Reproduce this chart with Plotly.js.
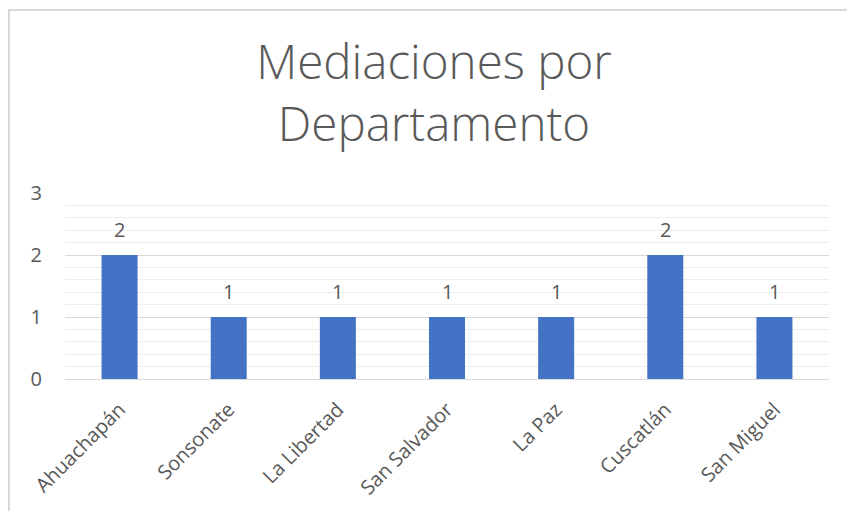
<!DOCTYPE html>
<html>
<head>
<meta charset="utf-8">
<script src="https://cdn.plot.ly/plotly-3.0.1.min.js"></script>
<style>
html,body{margin:0;padding:0;background:#fff;overflow:hidden;}
#wrap{position:relative;width:847px;height:511px;}
#chart{width:847px;height:511px;}
#frame{position:absolute;left:8px;top:9px;width:900px;height:600px;border:2px solid #d9d9d9;box-sizing:border-box;pointer-events:none;}
</style>
</head>
<body>
<div id="wrap"><div id="chart"></div><div id="frame"></div></div>
<script>
const categories = ["Ahuachapán","Sonsonate","La Libertad","San Salvador","La Paz","Cuscatlán","San Miguel"];
const values = [2,1,1,1,1,2,1];
const yTicks = [0,1,2,3];

const gray = '#595959';
const font = "'Open Sans', sans-serif";

const trace = {
  type: 'bar',
  x: categories,
  y: values,
  marker: {color: '#4472C4'},
  hoverinfo: 'skip'
};

const annotations = categories.map((c, i) => ({
  x: c, y: values[i], xref: 'x', yref: 'y',
  text: String(values[i]), showarrow: false,
  yanchor: 'bottom', yshift: 10,
  font: {family: font, size: 20, color: gray}
}));

const layout = {
  width: 847, height: 511,
  margin: {l: 65, r: 18, t: 193, b: 132},
  paper_bgcolor: '#fff', plot_bgcolor: '#fff',
  showlegend: false,
  bargap: 0.67,
  title: {
    text: 'Mediaciones por<br>Departamento',
    x: 0.5124, xanchor: 'center', xref: 'container',
    y: 0.845, yanchor: 'top', yref: 'container',
    font: {family: font, size: 47.5, color: gray, weight: 300}
  },
  xaxis: {
    type: 'category',
    tickangle: -45,
    showgrid: false,
    showline: true, linecolor: '#d9d9d9', linewidth: 1,
    ticks: '',
    ticklabelstandoff: 10,
    tickfont: {family: font, size: 20, color: gray},
    fixedrange: true
  },
  yaxis: {
    range: [0, 3],
    tickvals: yTicks,
    ticktext: yTicks.map(String),
    showgrid: true, gridcolor: '#d9d9d9', gridwidth: 1,
    zeroline: false,
    showline: false,
    ticks: '',
    ticklabelstandoff: 22,
    tickfont: {family: font, size: 20, color: gray},
    minor: {dtick: 0.2, tick0: 0, showgrid: true, gridcolor: '#ededed', gridwidth: 1, ticks: ''},
    fixedrange: true
  },
  annotations: annotations
};

Plotly.newPlot('chart', [trace], layout, {displayModeBar: false, staticPlot: true});
</script>
</body>
</html>
